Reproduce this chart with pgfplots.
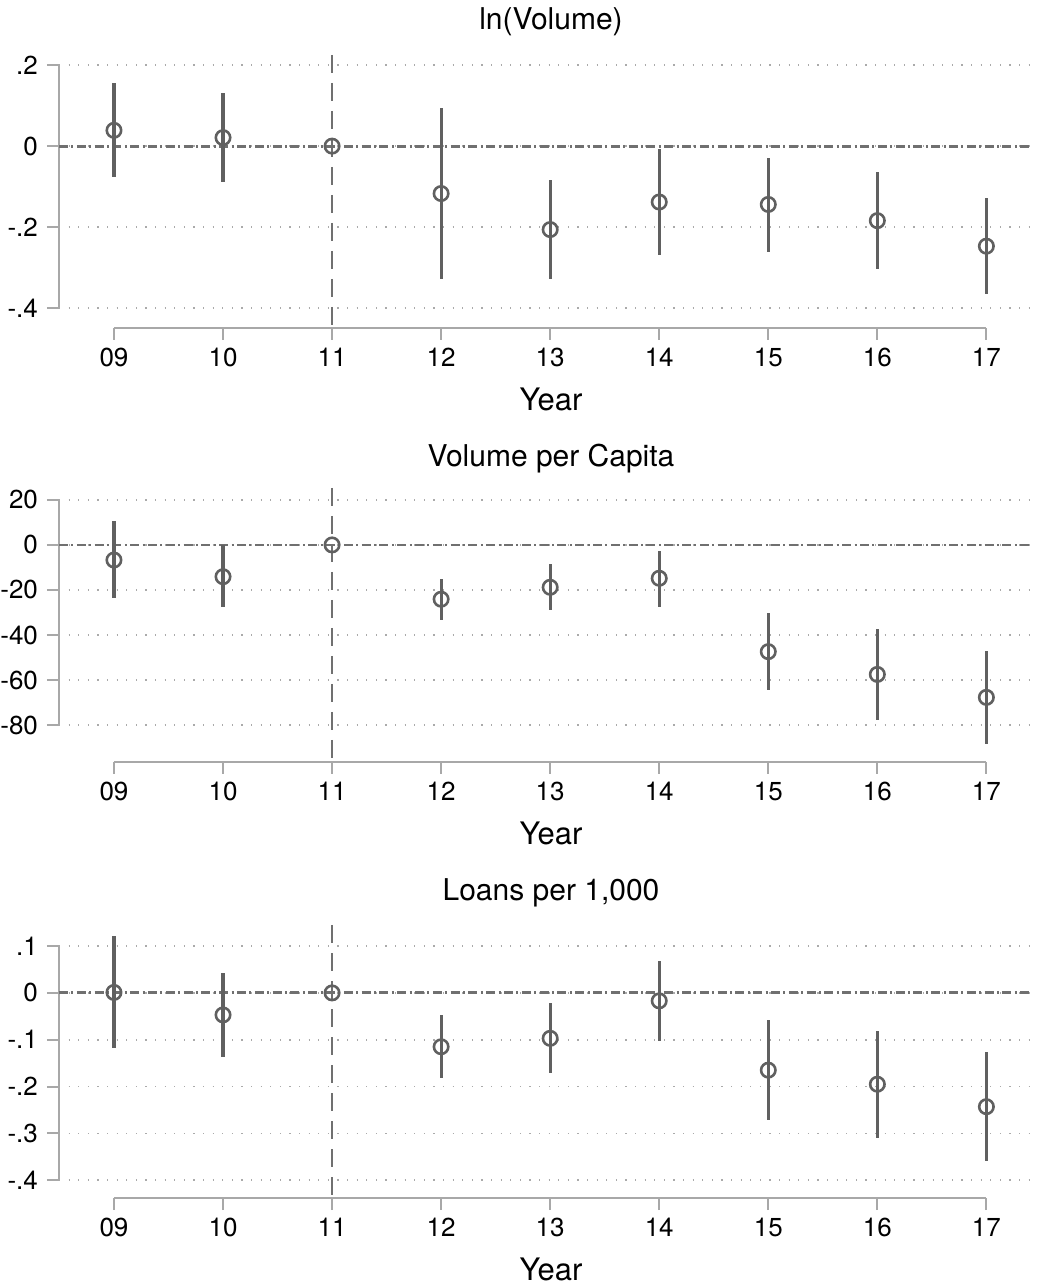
\documentclass[border=0pt]{standalone}
\usepackage{pgfplots}
\usepackage{pgfplotstable}
\pgfplotsset{compat=1.18}
\usepackage{fontspec}
\setmainfont{TeX Gyre Heros}
\definecolor{dgray}{RGB}{96,96,96}
\definecolor{agray}{RGB}{168,168,168}
\definecolor{ggray}{RGB}{170,170,170}
\definecolor{zgray}{RGB}{112,112,112}

\pgfplotstableread{
x y lo hi
9 0.039 -0.077 0.156
10 0.021 -0.088 0.130
11 0 0 0
12 -0.117 -0.327 0.093
13 -0.206 -0.327 -0.084
14 -0.138 -0.269 -0.007
15 -0.144 -0.261 -0.029
16 -0.184 -0.304 -0.065
17 -0.247 -0.366 -0.128
}\tabA
\pgfplotstableread{
x y lo hi
9 -6.7 -23.7 10.7
10 -14.1 -27.7 0
11 0 0 0
12 -24.1 -33.3 -15.3
13 -18.8 -28.9 -8.4
14 -14.8 -27.4 -2.5
15 -47.4 -64.4 -30.4
16 -57.5 -77.8 -37.3
17 -67.7 -88.4 -47.3
}\tabB
\pgfplotstableread{
x y lo hi
9 0.001 -0.118 0.122
10 -0.047 -0.137 0.043
11 0 0 0
12 -0.115 -0.181 -0.047
13 -0.097 -0.172 -0.021
14 -0.017 -0.103 0.068
15 -0.165 -0.271 -0.058
16 -0.195 -0.309 -0.081
17 -0.243 -0.359 -0.126
}\tabC

\tikzset{
  zline/.style={zgray, line width=1.4pt, dash pattern=on 4.5pt off 1.7pt on 1pt off 1.7pt},
  vline/.style={zgray, line width=1.4pt, dash pattern=on 9pt off 5pt},
}
\pgfplotsset{
  stata/.style={
    scale only axis, width=485.5pt,
    xmin=8.496, xmax=17.4,
    clip=false,
    axis line style={draw=none},
    xtick={9,...,17},
    xticklabels={09,10,11,12,13,14,15,16,17},
    xtick pos=bottom, ytick pos=left,
    tick align=outside,
    major tick length=6pt,
    every tick/.style={agray, line width=1pt},
    ymajorgrids,
    major grid style={ggray, line width=0.8pt, dash pattern=on 0.6pt off 4.2pt},
    tick label style={font=\fontsize{13}{15}\selectfont, black},
    xticklabel style={yshift=-0.5pt},
    yticklabel style={xshift=-1pt},
  },
  cim/.style={only marks, mark=o, mark size=3.6pt,
    mark options={line width=1.3pt, dgray},
    error bars/.cd, y dir=both, y explicit, error mark=none,
    error bar style={line width=1.6pt, dgray}},
}

\begin{document}
\begin{tikzpicture}
\useasboundingbox (0,0) rectangle (519pt,642pt);

% Panel 1
\begin{axis}[stata, at={(29.5pt,478pt)}, anchor=south west, height=136.5pt,
  ymin=-0.449, ymax=0.225,
  ytick={-0.4,-0.2,0,0.2}, yticklabels={{-.4},{-.2},{0},{.2}}]
\draw[agray, line width=1pt] (axis cs:8.496,-0.4) -- (axis cs:8.496,0.2);
\draw[agray, line width=1pt] (axis cs:9,-0.449) -- (axis cs:17,-0.449);
\draw[zline] (axis cs:8.496,0) -- (axis cs:17.4,0);
\draw[vline] (axis cs:11,0.225) -- (axis cs:11,-0.449);
\addplot[cim] table[x=x, y=y, y error plus expr=\thisrow{hi}-\thisrow{y}, y error minus expr=\thisrow{y}-\thisrow{lo}] {\tabA};
\end{axis}

% Panel 2
\begin{axis}[stata, at={(29.5pt,261pt)}, anchor=south west, height=137pt,
  ymin=-96.4, ymax=25.3,
  ytick={-80,-60,-40,-20,0,20}, yticklabels={{-80},{-60},{-40},{-20},{0},{20}}]
\draw[agray, line width=1pt] (axis cs:8.496,-80) -- (axis cs:8.496,20);
\draw[agray, line width=1pt] (axis cs:9,-96.4) -- (axis cs:17,-96.4);
\draw[zline] (axis cs:8.496,0) -- (axis cs:17.4,0);
\draw[vline] (axis cs:11,25.3) -- (axis cs:11,-96.4);
\addplot[cim] table[x=x, y=y, y error plus expr=\thisrow{hi}-\thisrow{y}, y error minus expr=\thisrow{y}-\thisrow{lo}] {\tabB};
\end{axis}

% Panel 3
\begin{axis}[stata, at={(29.5pt,43pt)}, anchor=south west, height=136.5pt,
  ymin=-0.438, ymax=0.145,
  ytick={-0.4,-0.3,-0.2,-0.1,0,0.1}, yticklabels={{-.4},{-.3},{-.2},{-.1},{0},{.1}}]
\draw[agray, line width=1pt] (axis cs:8.496,-0.4) -- (axis cs:8.496,0.1);
\draw[agray, line width=1pt] (axis cs:9,-0.438) -- (axis cs:17,-0.438);
\draw[zline] (axis cs:8.496,0) -- (axis cs:17.4,0);
\draw[vline] (axis cs:11,0.145) -- (axis cs:11,-0.438);
\addplot[cim] table[x=x, y=y, y error plus expr=\thisrow{hi}-\thisrow{y}, y error minus expr=\thisrow{y}-\thisrow{lo}] {\tabC};
\end{axis}

\node[font=\fontsize{15}{17}\selectfont] at (275.5pt,631pt) {ln(Volume)};
\node[font=\fontsize{15}{17}\selectfont] at (275.5pt,412.5pt) {Volume per Capita};
\node[font=\fontsize{15}{17}\selectfont] at (275.5pt,195.5pt) {Loans per 1,000};
\node[font=\fontsize{15.5}{17}\selectfont] at (275.5pt,442.5pt) {Year};
\node[font=\fontsize{15.5}{17}\selectfont] at (275.5pt,225.5pt) {Year};
\node[font=\fontsize{15.5}{17}\selectfont] at (275.5pt,7.5pt) {Year};
\end{tikzpicture}
\end{document}
